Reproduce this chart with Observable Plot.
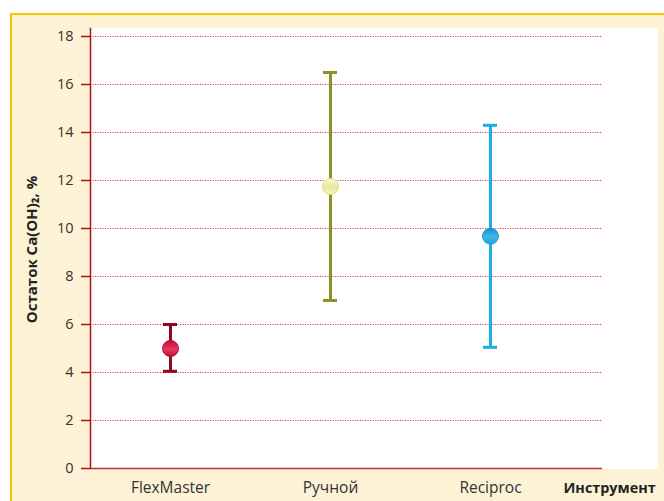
<!DOCTYPE html>
<html>
<head>
<meta charset="utf-8">
<script src="https://cdn.jsdelivr.net/npm/d3@7"></script>
<script src="https://cdn.jsdelivr.net/npm/@observablehq/plot@0.6"></script>
<style>
  html, body { margin: 0; padding: 0; background: #fff; }
  #wrap { position: relative; width: 664px; height: 501px; overflow: hidden; background: #fff; }
  #panel { position: absolute; left: 10px; top: 13px; width: 660px; height: 500px; background: #fdf2d6;
           border-top: 2px solid #f7c600; border-left: 2px solid #f7c600; box-sizing: border-box; }
  #plotbg { position: absolute; left: 90px; top: 28px; width: 568px; height: 441px; background: #fff; }
  #chart { position: absolute; left: 0; top: 0; }
  #chart svg { background: transparent; }
</style>
</head>
<body>
<div id="wrap">
  <div id="panel"></div>
  <div id="plotbg"></div>
  <div id="chart"></div>
</div>
<script>
const categories = ["FlexMaster", "Ручной", "Reciproc"];
const means = [5.0, 11.75, 9.68];
const lows = [4.05, 7.0, 5.05];
const highs = [6.0, 16.5, 14.3];
const yTicks = [0, 2, 4, 6, 8, 10, 12, 14, 16, 18];
const yLabel = "Остаток Ca(OH)₂, %";
const xLabel = "Инструмент";

const barColors = ["#8e0a1e", "#8c9126", "#19aee6"];
const dotFills = ["url(#gFlex)", "url(#gManual)", "url(#gRecip)"];
const dotStrokes = ["#b0102e", "#e6dc78", "#1a9fd8"];

const data = categories.map((c, i) => ({cat: c, mean: means[i], lo: lows[i], hi: highs[i], color: barColors[i]}));

const axisColor = "#a8121f";
const font = "'Open Sans', 'Noto Sans', sans-serif";

const chart = Plot.plot({
  width: 664,
  height: 501,
  marginLeft: 90,
  marginRight: 62,
  marginTop: 28,
  marginBottom: 33,
  style: {fontFamily: font, fontSize: "14px", color: "#333", background: "transparent"},
  x: {type: "band", domain: categories, range: [90, 570], paddingInner: 0.9125, paddingOuter: 0.45625, align: 0.5},
  y: {domain: [0, 18], range: [468, 36]},
  marks: [
    Plot.gridY(yTicks.filter(d => d > 0), {stroke: "#cc2236", strokeOpacity: 0.85, strokeDasharray: "1.2,1.3", strokeWidth: 1}),
    Plot.frame({anchor: "left", stroke: axisColor, strokeWidth: 1.5}),
    Plot.ruleY([0], {stroke: "#c0303a", strokeWidth: 1.5}),
    Plot.axisY({ticks: yTicks, tickSize: 9, tickPadding: 8, stroke: axisColor, strokeWidth: 1.5, fontSize: 14.5, fill: "#333", label: null}),
    Plot.axisX({tickSize: 0, tickPadding: 13, fontSize: 15.5, fill: "#333", label: null}),
    Plot.ruleX(data, {x: "cat", y1: "lo", y2: "hi", stroke: "color", strokeWidth: 3}),
    Plot.tickY(data, {x: "cat", y: "hi", stroke: "color", strokeWidth: 3}),
    Plot.tickY(data, {x: "cat", y: "lo", stroke: "color", strokeWidth: 3}),
    ...data.map((d, i) => Plot.dot([d], {x: "cat", y: "mean", r: 8, fill: dotFills[i], stroke: dotStrokes[i], strokeWidth: 1})),
    Plot.text([yLabel], {frameAnchor: "left", dx: -58, dy: 1, rotate: -90, textAnchor: "middle", fontWeight: "bold", fontSize: 15, fill: "#222"}),
    Plot.text([xLabel], {frameAnchor: "bottom-right", dx: -39, dy: 24, textAnchor: "start", fontWeight: "bold", fontSize: 14.4, fill: "#222"})
  ]
});

const defs = `
<defs>
  <linearGradient id="gFlex" x1="0" y1="0" x2="0" y2="1">
    <stop offset="0" stop-color="#c80a34"/>
    <stop offset="0.55" stop-color="#e63a62"/>
    <stop offset="1" stop-color="#c20a30"/>
  </linearGradient>
  <linearGradient id="gManual" x1="0" y1="0" x2="0" y2="1">
    <stop offset="0" stop-color="#fbfae0"/>
    <stop offset="0.5" stop-color="#ece7a2"/>
    <stop offset="1" stop-color="#f5f1c0"/>
  </linearGradient>
  <linearGradient id="gRecip" x1="0" y1="0" x2="0" y2="1">
    <stop offset="0" stop-color="#128fcf"/>
    <stop offset="0.55" stop-color="#45b8ea"/>
    <stop offset="1" stop-color="#1a9fd8"/>
  </linearGradient>
</defs>`;
chart.insertAdjacentHTML("afterbegin", defs);
document.getElementById("chart").appendChild(chart);
</script>
</body>
</html>
